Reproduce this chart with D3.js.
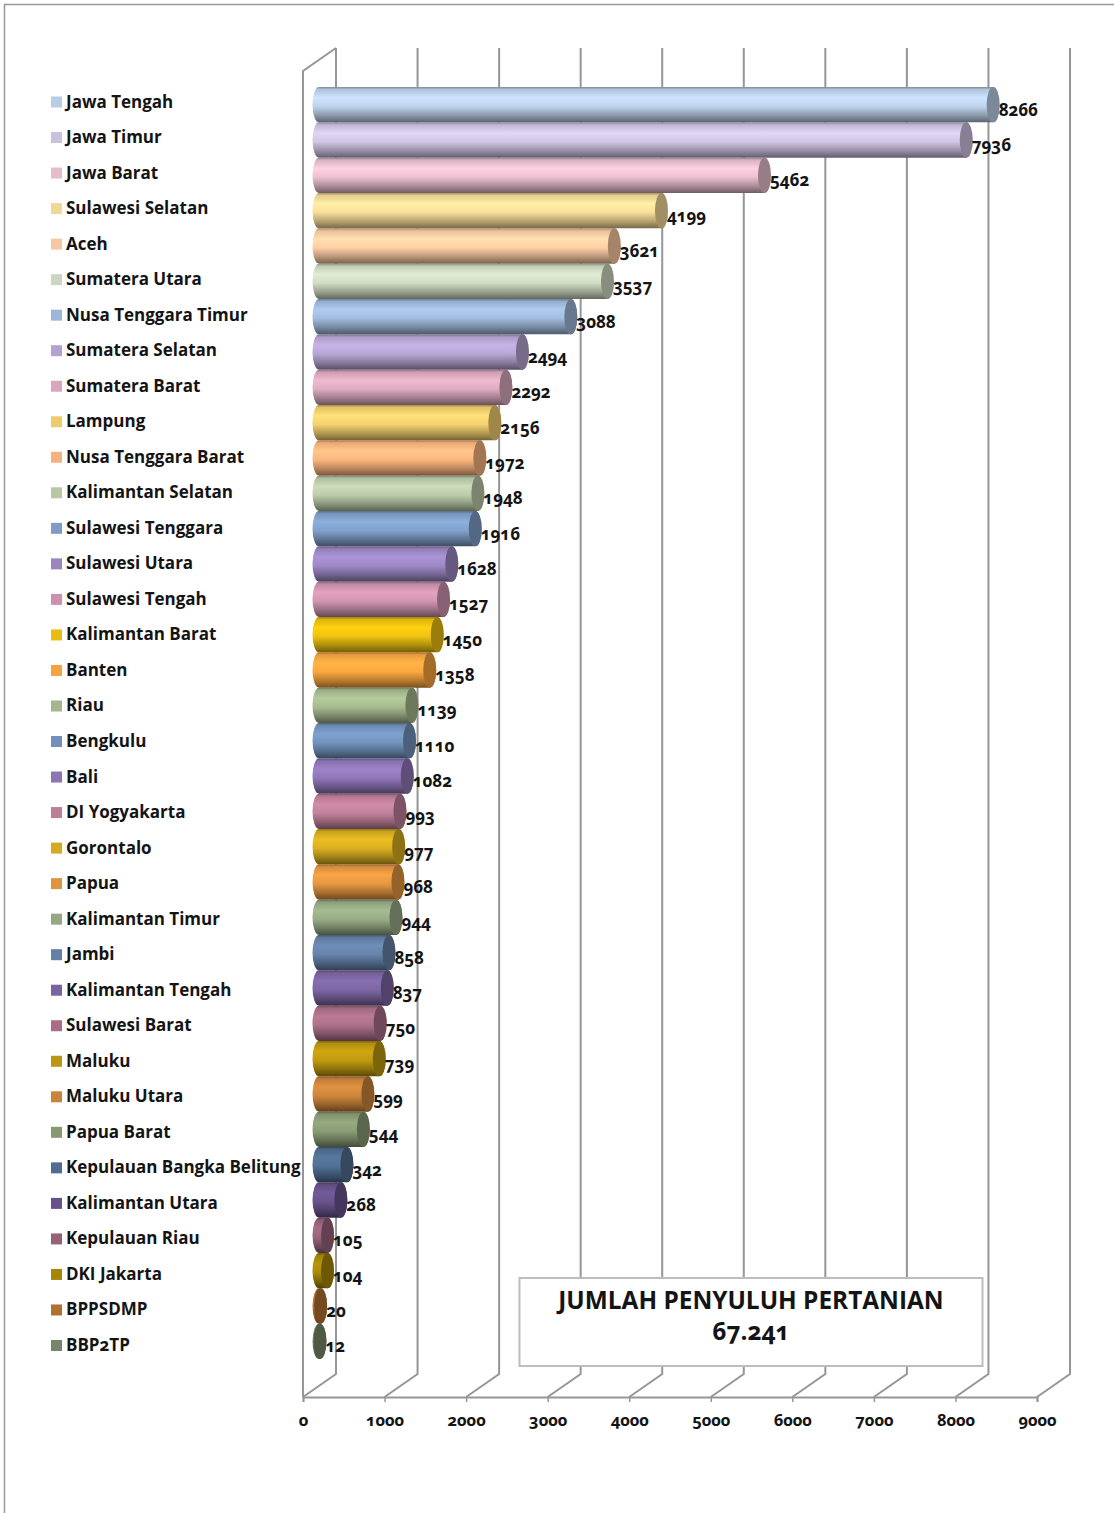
<!DOCTYPE html>
<html>
<head>
<meta charset="utf-8">
<script src="https://cdnjs.cloudflare.com/ajax/libs/d3/7.8.5/d3.min.js"></script>
<style>
html, body { margin: 0; padding: 0; background: #fff; }
svg { display: block; }
text { font-family: "Open Sans", Lato, sans-serif; font-weight: 700; fill: #141414; font-variant-numeric: oldstyle-nums; font-feature-settings: "onum" 1; }
</style>
</head>
<body>
<div id="chart"></div>
<script>
var provinces = ["Jawa Tengah", "Jawa Timur", "Jawa Barat", "Sulawesi Selatan", "Aceh", "Sumatera Utara",
    "Nusa Tenggara Timur", "Sumatera Selatan", "Sumatera Barat", "Lampung", "Nusa Tenggara Barat", "Kalimantan Selatan",
    "Sulawesi Tenggara", "Sulawesi Utara", "Sulawesi Tengah", "Kalimantan Barat", "Banten", "Riau",
    "Bengkulu", "Bali", "DI Yogyakarta", "Gorontalo", "Papua", "Kalimantan Timur",
    "Jambi", "Kalimantan Tengah", "Sulawesi Barat", "Maluku", "Maluku Utara", "Papua Barat",
    "Kepulauan Bangka Belitung", "Kalimantan Utara", "Kepulauan Riau", "DKI Jakarta", "BPPSDMP", "BBP2TP"];

var penyuluh = [8266, 7936, 5462, 4199, 3621, 3537,
    3088, 2494, 2292, 2156, 1972, 1948,
    1916, 1628, 1527, 1450, 1358, 1139,
    1110, 1082, 993, 977, 968, 944,
    858, 837, 750, 739, 599, 544,
    342, 268, 105, 104, 20, 12];

var swatchColors = ["#b9cde5", "#cbc0de", "#e5bccb", "#f2d896", "#f8c9a0", "#cbd6be",
    "#9db7d8", "#b3a2d0", "#d8a7bc", "#eecb6c", "#f6b27c", "#b8c7a6",
    "#7e9dc6", "#9a85c1", "#cc92ad", "#e8bd10", "#f5a33e", "#a3b68c",
    "#7191ba", "#8d75b5", "#bd7e98", "#d4ab1f", "#e09440", "#95a882",
    "#6480a5", "#7a64a0", "#a86e86", "#bb960f", "#c9833a", "#879973",
    "#4f6d90", "#66528a", "#96627a", "#a58608", "#b0702f", "#76866a"];

var xTicks = [0, 1000, 2000, 3000, 4000, 5000, 6000, 7000, 8000, 9000];
var boxLines = ["JUMLAH PENYULUH PERTANIAN", "67.241"];

var width = 1114, height = 1513;
var floorY = 1397, wallTop = 48;
var depthX = 33, depthY = 23;
var barShiftX = 16;
var gridColor = "#969696";

var svg = d3.select("#chart").append("svg")
    .attr("width", width)
    .attr("height", height);

// picture frame, only top and left show
svg.append("path")
    .attr("d", "M4.5,1513V4.5H1114")
    .attr("fill", "none")
    .attr("stroke", "#999")
    .attr("stroke-width", 1.5);

var x = d3.scaleLinear().domain([0, 9000]).range([303, 1037]);
var y = d3.scaleBand().domain(provinces).range([87, 1359]);
var legendY = d3.scalePoint().domain(provinces).range([101.5, 1345]);

// walls
var grid = svg.append("g")
    .attr("fill", "none")
    .attr("stroke", gridColor)
    .attr("stroke-width", 2);

grid.selectAll("path.grid")
    .data(xTicks)
    .enter().append("path")
    .attr("class", "grid")
    .attr("d", function(d) {
        var bx = x(d) + depthX;
        return "M" + bx + "," + wallTop + "V" + (floorY - depthY) + "L" + x(d) + "," + floorY;
    });

grid.append("path")
    .attr("d", "M" + (x(0) + depthX) + "," + wallTop + "L" + x(0) + "," + (wallTop + depthY) + "V" + floorY);

// x axis
var axis = svg.append("g")
    .attr("transform", "translate(0," + floorY + ")")
    .call(d3.axisBottom(x).tickValues(xTicks).tickSize(5).tickFormat(d3.format("d")));

axis.select(".domain").attr("stroke", gridColor).attr("stroke-width", 2);
axis.selectAll(".tick line").attr("stroke", gridColor).attr("stroke-width", 1.5);
axis.selectAll(".tick text")
    .attr("y", 17)
    .attr("font-size", 16.5)
    .attr("font-family", null)
    .style("fill", "#141414");

// cylinder shading
var defs = svg.append("defs");
var shadeStops = [
    {o: 0, f: function(c) { return c.darker(1.1); }},
    {o: 0.07, f: function(c) { return c.darker(0.15); }},
    {o: 0.3, f: function(c) { return c.brighter(0.3); }},
    {o: 0.55, f: function(c) { return c.brighter(0.08); }},
    {o: 0.8, f: function(c) { return c.darker(0.8); }},
    {o: 1, f: function(c) { return c.darker(2); }}
];

swatchColors.forEach(function(col, i) {
    var g = defs.append("linearGradient")
        .attr("id", "bar" + i)
        .attr("x1", 0).attr("y1", 0).attr("x2", 0).attr("y2", 1);
    shadeStops.forEach(function(s) {
        g.append("stop")
            .attr("offset", s.o)
            .attr("stop-color", s.f(d3.color(col)).formatHex());
    });
});

var rx = 6.5;

var bars = svg.selectAll("g.bar")
    .data(provinces)
    .enter().append("g")
    .attr("class", "bar");

bars.append("path")
    .attr("fill", function(d, i) { return "url(#bar" + i + ")"; })
    .attr("d", function(d, i) {
        var ry = y.bandwidth() / 2;
        var x0 = x(0) + barShiftX;
        var x1 = x(penyuluh[i]) + barShiftX;
        var t = y(d), b = y(d) + y.bandwidth();
        return "M" + x0 + "," + t + "L" + x1 + "," + t +
            "A" + rx + "," + ry + " 0 0 1 " + x1 + "," + b +
            "L" + x0 + "," + b +
            "A" + rx + "," + ry + " 0 0 1 " + x0 + "," + t + "Z";
    });

bars.append("ellipse")
    .attr("cx", function(d, i) { return x(penyuluh[i]) + barShiftX; })
    .attr("cy", function(d) { return y(d) + y.bandwidth() / 2; })
    .attr("rx", rx)
    .attr("ry", y.bandwidth() / 2)
    .attr("fill", function(d, i) { return d3.color(swatchColors[i]).darker(1.15).formatHex(); });

// value labels
svg.selectAll("text.value")
    .data(provinces)
    .enter().append("text")
    .attr("class", "value")
    .attr("x", function(d, i) { return x(penyuluh[i]) + barShiftX + rx - 1; })
    .attr("y", function(d) { return y(d) + y.bandwidth() / 2 + 11; })
    .attr("font-size", 17)
    .text(function(d, i) { return penyuluh[i]; });

// legend
svg.selectAll("rect.legend")
    .data(provinces)
    .enter().append("rect")
    .attr("class", "legend")
    .attr("x", 51)
    .attr("y", function(d) { return legendY(d) - 5; })
    .attr("width", 11)
    .attr("height", 11)
    .attr("fill", function(d, i) { return swatchColors[i]; });

svg.selectAll("text.legend")
    .data(provinces)
    .enter().append("text")
    .attr("class", "legend")
    .attr("x", 66)
    .attr("y", function(d) { return legendY(d) + 6; })
    .attr("font-size", 17)
    .text(function(d) { return d; });

// total box
svg.append("rect")
    .attr("x", 519.5)
    .attr("y", 1278)
    .attr("width", 463)
    .attr("height", 88)
    .attr("fill", "#fff")
    .attr("stroke", "#bdbdbd")
    .attr("stroke-width", 2);

svg.selectAll("text.box")
    .data(boxLines)
    .enter().append("text")
    .attr("class", "box")
    .attr("x", 751)
    .attr("y", function(d, i) { return 1308.5 + i * 31; })
    .attr("text-anchor", "middle")
    .attr("font-size", 24.4)
    .text(function(d) { return d; });
</script>
</body>
</html>
